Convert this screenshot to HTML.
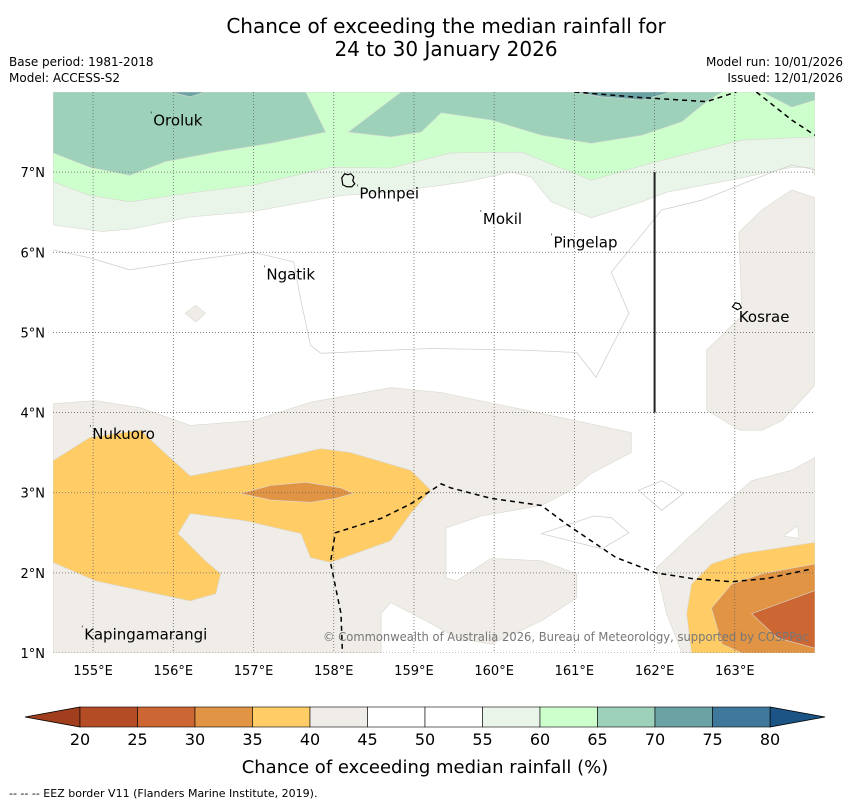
<!DOCTYPE html>
<html><head><meta charset="utf-8"><style>
body{margin:0;background:#fff;width:850px;height:804px;overflow:hidden;font-family:"Liberation Sans","DejaVu Sans",sans-serif}
svg text{font-family:"DejaVu Sans","Liberation Sans",sans-serif}
</style></head><body>
<svg id="c" width="850" height="804"></svg>
<script>
const lonTicks=[155,156,157,158,159,160,161,162,163];
const latTicks=[1,2,3,4,5,6,7];
const cbValues=[20,25,30,35,40,45,50,55,60,65,70,75,80];
const cbColors=["#b44c26","#cc6633","#e09444","#ffcc66","#f0ece7","#ffffff","#ffffff","#eaf5ea","#ccffcc","#9ed1ba","#6ba3a4","#3f789a"];
const green55=[[154.5,8],[164,8],[164,6.95],[163.96,7.06],[163.71,7.06],[163.09,6.93],[162.15,6.75],[161.84,6.63],[161.21,6.43],[160.71,6.63],[160.46,6.94],[160.21,7.0],[159.65,6.88],[158.71,6.75],[158.09,6.71],[157.0,6.51],[156.21,6.44],[155.49,6.29],[155.11,6.26],[154.5,6.34]];
const green60=[[154.5,8],[164,8],[164,7.44],[163.09,7.4],[162.02,7.13],[161.21,6.9],[160.34,7.25],[159.46,7.24],[158.71,7.05],[157.96,7.06],[157.0,6.84],[156.21,6.74],[155.46,6.63],[154.96,6.71],[154.5,6.88]];
const green65a=[[154.5,8],[157.65,8],[157.9,7.5],[157.21,7.36],[156.53,7.25],[155.9,7.13],[155.46,6.96],[154.96,7.06],[154.5,7.24]];
const green65b=[[158.18,7.5],[158.84,8],[162.84,8],[162.65,7.88],[162.34,7.63],[161.84,7.46],[161.21,7.36],[160.59,7.46],[159.96,7.65],[159.34,7.74],[159.09,7.5],[158.71,7.44]];
const green65c=[[163.34,8],[164,8],[164,7.9],[163.71,7.81]];
const teal70a=[[155.96,8],[156.4,8],[156.21,7.94]];
const teal70b=[[160.99,8],[162.21,8],[161.84,7.9],[161.34,7.94]];
const beigeMain=[[154.5,4.11],[155.03,4.15],[155.59,4.06],[156.21,3.84],[157.0,3.9],[157.71,4.13],[158.71,4.31],[159.34,4.25],[160.59,3.99],[161.71,3.75],[161.71,3.5],[161.21,3.24],[160.96,3.03],[160.59,2.84],[159.84,2.71],[159.4,2.56],[159.4,1.94],[159.53,1.9],[159.96,2.18],[160.59,2.15],[161.03,1.99],[161.03,1.69],[160.59,1.4],[159.96,1.11],[159.53,1.19],[159.15,1.4],[158.71,1.63],[158.59,1.49],[158.59,1.0],[154.5,1.0]];
const beigeNE=[[163.05,6.25],[163.34,6.53],[163.71,6.78],[164,6.68],[164,4.34],[163.59,3.9],[163.34,3.78],[163.06,3.78],[162.65,4.03],[162.65,4.78],[163.09,5.21]];
const beigeSE=[[164,3.44],[163.71,3.28],[163.21,3.15],[162.65,2.65],[162.02,2.06],[162.15,1.49],[162.34,1.0],[164,1.0]];
const whiteSE=[[163.78,2.59],[163.8,2.43],[163.61,2.46]];
const beigeSmall=[[156.15,5.24],[156.28,5.34],[156.4,5.24],[156.28,5.13]];
const yellowW=[[154.5,3.4],[154.96,3.69],[155.59,3.78],[155.9,3.49],[156.21,3.21],[157.0,3.36],[157.84,3.55],[158.21,3.5],[158.96,3.28],[159.21,3.03],[158.96,2.74],[158.71,2.4],[157.96,2.13],[157.71,2.19],[157.59,2.49],[156.9,2.65],[156.21,2.74],[156.06,2.49],[156.4,2.15],[156.59,1.99],[156.53,1.74],[156.21,1.65],[155.03,1.9],[154.5,2.13]];
const orangeW=[[156.84,2.99],[157.21,3.09],[157.65,3.13],[158.09,3.06],[158.24,2.99],[158.03,2.93],[157.71,2.88],[157.21,2.91]];
const yellowSE=[[164,2.38],[163.09,2.24],[162.71,2.11],[162.46,1.86],[162.4,1.49],[162.46,1.0],[164,1.0]];
const orangeSE=[[164,2.11],[163.34,1.99],[162.96,1.86],[162.71,1.56],[162.84,1.11],[163.09,1.0],[164,1.0]];
const darkSE=[[164,1.78],[163.21,1.49],[163.53,1.19],[164,1.06]];
const contour50=[[154.5,6.03],[154.96,5.93],[155.46,5.78],[156.21,5.9],[157.0,6.0],[157.5,5.88],[157.59,5.4],[157.71,4.84],[157.84,4.74],[158.71,4.78],[159.21,4.8],[160.34,4.78],[161.03,4.75],[161.27,4.44],[161.68,5.24],[161.46,5.75],[162.09,6.53],[162.59,6.65],[163.21,6.9],[163.71,7.09],[164,7.03]];
const contourDiamond=[[161.8,3.03],[162.09,3.15],[162.36,2.99],[162.09,2.78]];
const contourTri=[[160.59,2.49],[161.24,2.71],[161.46,2.69],[161.68,2.5],[161.34,2.3]];
const eez1=[[161,8],[161.84,7.93],[162.65,7.88],[163.02,8]];
const eez2=[[163.27,8],[163.71,7.65],[164,7.46]];
const eez3=[[158.11,0.94],[158.09,1.49],[157.96,2.13],[158.02,2.5],[158.59,2.68],[158.96,2.86],[159.34,3.11],[159.46,3.06],[159.96,2.93],[160.59,2.84],[160.9,2.61],[161.52,2.19],[162.02,2.0],[162.46,1.93],[162.96,1.89],[163.4,1.93],[163.96,2.05]];
const places=[["Oroluk",155.75,7.58],["Pohnpei",158.32,6.67],["Mokil",159.86,6.35],["Pingelap",160.74,6.06],["Ngatik",157.16,5.66],["Kosrae",163.05,5.13],["Nukuoro",154.99,3.67],["Kapingamarangi",154.89,1.17]];

const X0=53,X1=815,Y0=92,Y1=653,LON0=154.5,LON1=164,LAT0=1,LAT1=8;
const sx=l=>X0+(l-LON0)/(LON1-LON0)*(X1-X0);
const sy=a=>Y1-(a-LAT0)/(LAT1-LAT0)*(Y1-Y0);
const NS="http://www.w3.org/2000/svg";
const svg=document.getElementById('c');
function mk(tag,attrs,parent){const e=document.createElementNS(NS,tag);for(const k in attrs)e.setAttribute(k,attrs[k]);(parent||svg).appendChild(e);return e;}
const pts=arr=>arr.map(p=>sx(p[0]).toFixed(1)+','+sy(p[1]).toFixed(1)).join(' ');

const defs=mk('defs',{});
const cp=mk('clipPath',{id:'clip'},defs);
mk('rect',{x:X0,y:Y0,width:X1-X0,height:Y1-Y0},cp);
const map=mk('g',{'clip-path':'url(#clip)'});


mk('rect',{x:X0,y:Y0,width:X1-X0,height:Y1-Y0,fill:'#fff'},map);

const layers=[["green-55-60",green55,cbColors[7]],["green-60-65",green60,cbColors[8]],["green-65-70-west",green65a,cbColors[9]],["green-65-70-central",green65b,cbColors[9]],["green-65-70-east",green65c,cbColors[9]],["teal-70-75-a",teal70a,cbColors[10]],["teal-70-75-b",teal70b,cbColors[10]],
["beige-40-45-main",beigeMain,cbColors[4]],["beige-40-45-ne",beigeNE,cbColors[4]],["beige-40-45-se",beigeSE,cbColors[4]],["white-gap-se",whiteSE,"#fff"],["beige-40-45-small",beigeSmall,cbColors[4]],
["yellow-35-40-west",yellowW,cbColors[3]],["orange-30-35-west",orangeW,cbColors[2]],["yellow-35-40-se",yellowSE,cbColors[3]],["orange-30-35-se",orangeSE,cbColors[2]],["red-25-30-se",darkSE,cbColors[1]]];
layers.forEach(([n,arr,col])=>{
  const p=mk('polygon',{points:pts(arr),fill:col,stroke:'#d8d8d0','stroke-width':0.6},map);
  
  
});
[["contour-50",contour50,'polyline'],["contour-diamond",contourDiamond,'polygon'],["contour-triangle",contourTri,'polygon']].forEach(([n,arr,t])=>{
  const p=mk(t,{points:pts(arr),fill:'none',stroke:'#d0d0d0','stroke-width':0.8},map);
  
  
});
lonTicks.forEach(l=>{const g=mk('line',{x1:sx(l),x2:sx(l),y1:Y0,y2:Y1,stroke:'#666','stroke-width':0.8,'stroke-dasharray':'1,2'},map);

});
latTicks.forEach(a=>{const g=mk('line',{x1:X0,x2:X1,y1:sy(a),y2:sy(a),stroke:'#666','stroke-width':0.8,'stroke-dasharray':'1,2'},map);

});
[eez1,eez2,eez3].forEach(arr=>{const p=mk('polyline',{points:pts(arr),fill:'none',stroke:'#000','stroke-width':1.5,'stroke-dasharray':'5,4'},map);

});
const vl=mk('line',{x1:sx(162),x2:sx(162),y1:sy(7),y2:sy(4),stroke:'#222','stroke-width':2},map);


const pi=mk('path',{d:`M${sx(158.1)},${sy(6.93)} l3,-4 l3,1 l3,-1 l3,3 l-1,4 l2,3 l-3,3 l-5,0 l-4,-2 z`,fill:'none',stroke:'#000','stroke-width':1.2},map);


const ki=mk('path',{d:`M${sx(162.97)},${sy(5.32)} l3,-4 l4,1 l2,4 l-4,2 z`,fill:'none',stroke:'#000','stroke-width':1.1},map);


places.forEach(([n,lo,la])=>{
  const t=mk('text',{x:sx(lo),y:sy(la),'font-size':15,fill:'#000'},map);
  t.textContent=n;
  
  
  mk('text',{x:sx(lo)-3,y:sy(la)-9,'font-size':7,fill:'#000'},map).textContent="'";
});
const cr=mk('text',{x:323,y:641,'font-size':12,fill:'#777',textLength:486,lengthAdjust:'spacingAndGlyphs'},map);
cr.textContent="© Commonwealth of Australia 2026, Bureau of Meteorology, supported by COSPPac";



lonTicks.forEach(l=>{const t=mk('text',{x:sx(l),y:675,'font-size':13,'text-anchor':'middle'});t.textContent=l+'°E';

});
latTicks.forEach(a=>{const t=mk('text',{x:45,y:sy(a)+5,'font-size':13,'text-anchor':'end'});t.textContent=a+'°N';

});

function txt(s,x,y,size,anchor,name){const t=mk('text',{x:x,y:y,'font-size':size,'text-anchor':anchor});t.textContent=s;return t;}
txt("Chance of exceeding the median rainfall for",446,33,20,'middle','chart-title');
txt("24 to 30 January 2026",446,56,20,'middle','chart-subtitle');
txt("Base period: 1981-2018",9,66,12,'start','base-period');
txt("Model: ACCESS-S2",9,82,12,'start','model-name');
txt("Model run: 10/01/2026",843,66,12,'end','model-run');
txt("Issued: 12/01/2026",843,82,12,'end','issued-date');

const CB0=80,CB1=770,CBy=707,CBh=20;
const cx=v=>CB0+(v-cbValues[0])/(cbValues[cbValues.length-1]-cbValues[0])*(CB1-CB0);
const cb=mk('g',{});


mk('polygon',{points:`${CB0},${CBy} ${CB0},${CBy+CBh} 25,${CBy+CBh/2}`,fill:'#a03e1e',stroke:'#000','stroke-width':0.8},cb);
mk('polygon',{points:`${CB1},${CBy} ${CB1},${CBy+CBh} 825,${CBy+CBh/2}`,fill:'#1b5485',stroke:'#000','stroke-width':0.8},cb);
cbColors.forEach((c,i)=>{const r=mk('rect',{x:cx(cbValues[i]),y:CBy,width:cx(cbValues[i+1])-cx(cbValues[i]),height:CBh,fill:c,stroke:'#000','stroke-width':0.6},cb);

});
cbValues.forEach(v=>{const t=mk('text',{x:cx(v),y:745,'font-size':16,'text-anchor':'middle'},cb);t.textContent=v;

});
txt("Chance of exceeding median rainfall (%)",425,773,18,'middle','colorbar-title');
txt("--  --  -- EEZ border V11 (Flanders Marine Institute, 2019).",9,797,11,'start','eez-legend');
</script>
</body></html>
